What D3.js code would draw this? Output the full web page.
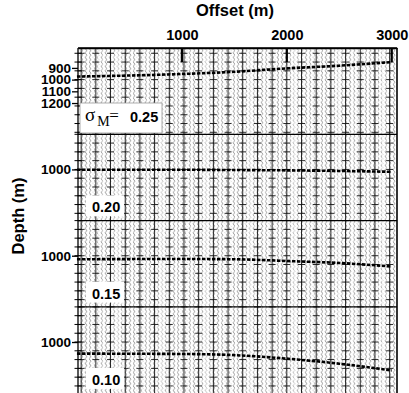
<!DOCTYPE html>
<html><head><meta charset="utf-8">
<script src="https://cdn.jsdelivr.net/npm/d3@7"></script>
<style>
body{margin:0;background:#fff}
text{font-family:"Liberation Sans",Arial,sans-serif;font-weight:bold;fill:#000}
</style>
</head><body><div id="chart"></div>
<script>
// ---- data ----
const offsetTicks = [1000, 2000, 3000];
const sigmaLabels = ["0.25", "0.20", "0.15", "0.10"];
const depthLabels = [[900, 1000, 1100, 1200], [1000], [1000], [1000]];
const depthStart = [730, 700, 700, 700];
const eventOffsets = [0, 1000, 1500, 2000, 2500, 3000];
const event025 = [974, 952, 933, 904, 881, 850];
const event020 = [1003, 1003, 1005, 1008, 1013, 1020];
const event015 = [1030, 1028, 1030, 1045, 1062, 1092];
const event010 = [1099, 1102, 1112, 1142, 1185, 1243];
const events = [event025, event020, event015, event010];

const W = 409, H = 393;
const plotL = 78, plotR = 397, plotT = 48, panelH = 86.3;

const svg = d3.select("#chart").append("svg")
  .attr("width", W).attr("height", H);

const x = d3.scaleLinear().domain([10, 3050]).range([plotL, plotR]);

// trace columns (every ~47 m) and solid baselines (every 140 m)
const lineOffsets = d3.range(40, 3050, 140);
const traceOffsets = d3.range(40, 3050, 140 / 3);

// squiggle pattern for the wiggle traces
const defs = svg.append("defs");
const pat = defs.append("pattern")
  .attr("id", "wig").attr("patternUnits", "userSpaceOnUse")
  .attr("width", 4).attr("height", 4.5);
pat.append("path")
  .attr("d", "M2,0 Q3.8,1.1 2,2.25 Q0.2,3.4 2,4.5")
  .attr("fill", "none").attr("stroke", "#8a8a8a").attr("stroke-width", 0.8);

const line = d3.line().curve(d3.curveMonotoneX);

sigmaLabels.forEach((lab, i) => {
  const y0 = plotT + i * panelH;
  const d0 = depthStart[i];
  const y = d3.scaleLinear().domain([d0, d0 + 737]).range([y0, y0 + panelH]);
  const dashDepths = d3.range(d0 === 700 ? 700 : 775, d0 + 737, 75);
  const g = svg.append("g").attr("class", "panel");

  // wiggle traces
  g.selectAll("rect.trace")
    .data(traceOffsets)
    .join("rect")
    .attr("class", "trace")
    .attr("x", d => x(d) - 2)
    .attr("y", y0)
    .attr("width", 4)
    .attr("height", panelH)
    .attr("fill", "url(#wig)");

  // solid trace baselines
  g.selectAll("line.base")
    .data(lineOffsets)
    .join("line")
    .attr("class", "base")
    .attr("x1", d => x(d)).attr("x2", d => x(d))
    .attr("y1", y0).attr("y2", y0 + panelH)
    .attr("stroke", "#111").attr("stroke-width", 0.9);

  // short horizontal dashes on each baseline
  lineOffsets.forEach(o => {
    g.append("g").selectAll("line")
      .data(dashDepths)
      .join("line")
      .attr("x1", x(o) - 3.5).attr("x2", x(o) + 3.5)
      .attr("y1", d => y(d)).attr("y2", d => y(d))
      .attr("stroke", "#111").attr("stroke-width", 0.9);
  });

  // event
  g.append("path")
    .datum(eventOffsets.map((o, k) => [x(o), y(events[i][k])]))
    .attr("d", line)
    .attr("fill", "none")
    .attr("stroke", "#000")
    .attr("stroke-width", 2.6)
    .attr("stroke-dasharray", "3.5,1.5");

  // left axis
  const ax = d3.axisLeft(y).tickValues(depthLabels[i]).tickSize(6).tickPadding(1)
    .tickFormat(d3.format("d"));
  const ag = svg.append("g").attr("transform", `translate(${plotL},0)`).call(ax);
  ag.select(".domain").remove();
  ag.selectAll("text").attr("font-size", 13.5);
  ag.selectAll("line").attr("stroke", "#000").attr("stroke-width", 1.3);
  // minor ticks crossing the axis
  svg.append("g").selectAll("line")
    .data(dashDepths)
    .join("line")
    .attr("x1", plotL - 3.5).attr("x2", plotL + 3.5)
    .attr("y1", d => y(d)).attr("y2", d => y(d))
    .attr("stroke", "#000");

  // panel separator
  svg.append("line")
    .attr("x1", plotL).attr("x2", plotR)
    .attr("y1", y0).attr("y2", y0)
    .attr("stroke", "#000").attr("stroke-width", 1.3);

  // sigma label
  if (i === 0) {
    svg.append("rect")
      .attr("x", plotL + 2).attr("y", y0 + 55).attr("width", 82).attr("height", 30)
      .attr("fill", "#fff").attr("stroke", "#999").attr("stroke-width", 0.8);
    const t = svg.append("text").attr("x", 85).attr("y", y0 + 73);
    t.append("tspan").text("σ").attr("font-family", "Liberation Serif, serif")
      .attr("font-weight", "normal").attr("font-size", 19);
    t.append("tspan").text("M").attr("font-family", "Liberation Serif, serif")
      .attr("font-weight", "normal").attr("font-size", 14).attr("dy", 5).attr("dx", 2);
    t.append("tspan").text("=").attr("font-family", "Liberation Serif, serif")
      .attr("font-weight", "normal").attr("font-size", 17).attr("dy", -5).attr("dx", -0.5);
    svg.append("text").attr("x", 130).attr("y", y0 + 74)
      .attr("font-size", 14.5).text(lab);
  } else {
    svg.append("rect")
      .attr("x", plotL + 8).attr("y", y0 + 61).attr("width", 38).attr("height", 21)
      .attr("fill", "#fff");
    svg.append("text").attr("x", plotL + 14).attr("y", y0 + 78)
      .attr("font-size", 14.5).text(lab);
  }
});

// frame
svg.append("line").attr("x1", plotL).attr("x2", plotL).attr("y1", plotT).attr("y2", H)
  .attr("stroke", "#000").attr("stroke-width", 1.3);
svg.append("line").attr("x1", plotR).attr("x2", plotR).attr("y1", plotT).attr("y2", H)
  .attr("stroke", "#000").attr("stroke-width", 1.6);

// top axis
const tg = svg.append("g").attr("transform", `translate(0,${plotT})`)
  .call(d3.axisTop(x).tickValues(offsetTicks).tickSize(0).tickPadding(8)
    .tickFormat(d3.format("d")));
tg.select(".domain").attr("stroke", "#000").attr("stroke-width", 1.3);
tg.selectAll("text").attr("font-size", 14.5);
svg.append("g").selectAll("line")
  .data(offsetTicks)
  .join("line")
  .attr("x1", d => Math.min(x(d), plotR)).attr("x2", d => Math.min(x(d), plotR))
  .attr("y1", plotT).attr("y2", plotT + 14)
  .attr("stroke", "#000").attr("stroke-width", 2.2);

svg.append("text").attr("x", 235).attr("y", 16).attr("text-anchor", "middle")
  .attr("font-size", 16.5).text("Offset (m)");
svg.append("text").attr("transform", "translate(24,216) rotate(-90)")
  .attr("text-anchor", "middle").attr("font-size", 16.5).text("Depth (m)");
</script>
</body></html>
